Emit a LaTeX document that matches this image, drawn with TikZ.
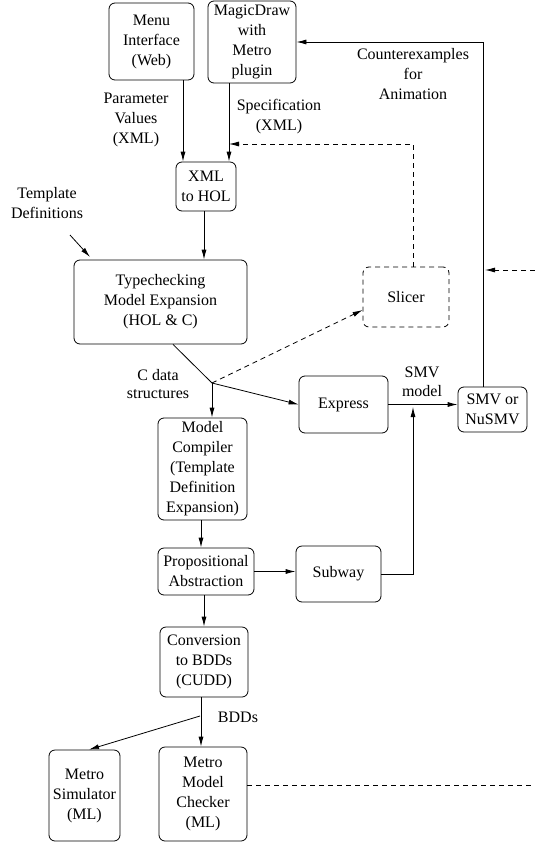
\documentclass[tikz,border=0pt]{standalone}
\usepackage{fontspec}
\setmainfont{Liberation Serif}
\usetikzlibrary{arrows.meta}
\tikzset{
  box/.style={draw, rounded corners=6pt, line width=0.8pt, align=center, inner sep=0pt, font=\fontsize{16}{20}\selectfont},
  lbl/.style={align=center, inner sep=0pt, font=\fontsize{16}{20}\selectfont},
  arr/.style={line width=0.8pt, -{Latex[length=10pt,width=5pt]}},
  ln/.style={line width=0.8pt},
  dsh/.style={line width=0.8pt, dash pattern=on 5pt off 4pt},
  dasharr/.style={dsh, -{Latex[length=10pt,width=5pt]}}
}
\begin{document}
\begin{tikzpicture}[x=1pt,y=-1pt]
\useasboundingbox (0,0) rectangle (535,843);
% boxes
\node[box, minimum width=85pt, minimum height=77pt] (menu) at (151.5,41.5) {Menu\\Interface\\(Web)};
\node[box, minimum width=88pt, minimum height=82pt] (magic) at (252,42) {MagicDraw\\with\\Metro\\plugin};
\node[box, minimum width=60pt, minimum height=49pt] (xml) at (206,186.5) {XML\\to HOL};
\node[box, minimum width=173pt, minimum height=84pt] (type) at (160.5,302) {Typechecking\\Model Expansion\\(HOL \& C)};
\node[box, dsh, minimum width=86pt, minimum height=60pt] (slicer) at (406,297) {Slicer};
\node[box, minimum width=89pt, minimum height=57pt] (express) at (343.5,404.5) {Express};
\node[box, minimum width=69pt, minimum height=45pt] (smv) at (492.5,409.5) {SMV or\\NuSMV};
\node[box, minimum width=89pt, minimum height=102pt] (compiler) at (202.5,469) {Model\\Compiler\\(Template\\Definition\\Expansion)};
\node[box, minimum width=96pt, minimum height=47pt] (prop) at (206,571.5) {Propositional\\Abstraction};
\node[box, minimum width=85pt, minimum height=56pt] (subway) at (338.5,574) {Subway};
\node[box, minimum width=88pt, minimum height=70pt] (conv) at (204,662) {Conversion\\to BDDs\\(CUDD)};
\node[box, minimum width=71pt, minimum height=91pt] (sim) at (84.5,795.5) {Metro\\Simulator\\(ML)};
\node[box, minimum width=88pt, minimum height=94pt] (checker) at (203,794) {Metro\\Model\\Checker\\(ML)};
% labels
\node[lbl] (lpar) at (136,120) {Parameter\\Values\\(XML)};
\node[lbl] (lspec) at (279,117) {Specification\\(XML)};
\node[lbl] (lcex) at (413,74) {Counterexamples\\for\\Animation};
\node[lbl] (ltmpl) at (47,203) {Template\\Definitions};
\node[lbl, font=\fontsize{16}{18}\selectfont] (lcdata) at (158,384) {C data\\structures};
\node[lbl, font=\fontsize{16}{19}\selectfont] (lsmv) at (422,382) {SMV\\model};
\node[lbl] (lbdd) at (238,717) {BDDs};
% coordinates
\coordinate (specin) at (229,144);
\coordinate (tmplfrom) at (70,235);
\coordinate (tmplto) at (90,257);
\coordinate (j) at (212,383);
\coordinate (subin) at (413,407);
\coordinate (rin) at (535,270);
\coordinate (rinend) at (485,270);
\coordinate (rout) at (535,785);
\coordinate (b) at (200,716);
% connectors
\draw[arr] (menu.south -| 183,0) -- (xml.north -| 183,0);
\draw[arr] (magic.south -| 229,0) -- (xml.north -| 229,0);
\draw[dasharr] (slicer.north -| 413,0) |- (specin);
\draw[arr] (xml.south -| 204,0) -- (type.north -| 204,0);
\draw[arr] (tmplfrom) -- (tmplto);
\draw[ln] (type.south -| 173,0) -- (j);
\draw[arr] (j) -- (compiler.north -| 212,0);
\draw[arr] (j) -- (express.west);
\draw[dasharr] (j) -- (slicer.west |- 0,310);
\draw[arr] (express.east) -- (smv.west |- express.east);
\draw[arr] (subway.east) -| (subin);
\draw[arr] (smv.north -| 483,0) |- (magic.east |- 0,42);
\draw[dasharr] (rin) -- (rinend);
\draw[arr] (compiler.south -| 201,0) -- (prop.north -| 201,0);
\draw[arr] (prop.east) -- (subway.west |- prop.east);
\draw[arr] (prop.south -| 204,0) -- (conv.north -| 204,0);
\draw[arr] (conv.south -| 201,0) -- (checker.north -| 201,0);
\draw[arr] (b) -- (sim.north -| 89,0);
\draw[dsh] (checker.east |- 0,785) -- (rout);
\end{tikzpicture}
\end{document}
